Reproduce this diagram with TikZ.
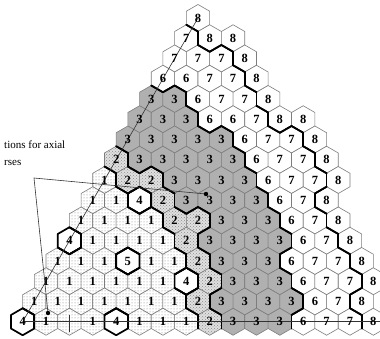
\documentclass[tikz,border=0pt]{standalone}
\usepackage{fontspec}
\setmainfont{Liberation Serif}
\usetikzlibrary{patterns}
\definecolor{greyC}{RGB}{176,176,176}
\definecolor{edgeG}{RGB}{125,125,125}
\newcommand{\hexrad}{13.5}
% row / assembly types, left to right
\newcommand{\hexdata}{%
  1/{8},
  2/{7,8,8},
  3/{7,7,7,8},
  4/{6,6,7,7,8},
  5/{3,3,6,7,7,8},
  6/{3,3,3,6,6,7,8,8},
  7/{3,3,3,3,3,6,7,7,8},
  8/{2,3,3,3,3,3,6,7,7,8},
  9/{1,2,2,3,3,3,3,6,7,7,8},
  10/{1,1,4,2,3,3,3,3,6,7,8},
  11/{1,1,1,1,2,2,3,3,3,6,7,8},
  12/{4,1,1,1,1,2,3,3,3,3,6,7,8},
  13/{1,1,1,5,1,1,2,3,3,3,6,7,7,8},
  14/{1,1,1,1,1,1,4,2,3,3,3,6,7,7,8},
  15/{1,1,1,1,1,1,1,2,3,3,3,3,6,7,8},
  16/{4,1,p,1,4,1,1,1,2,3,3,3,6,7,7,8}}
% zone of each type (4 and 5 stand alone)
\expandafter\def\csname grp1\endcsname{a}
\expandafter\def\csname grpp\endcsname{a}
\expandafter\def\csname grp2\endcsname{b}
\expandafter\def\csname grp3\endcsname{c}
\expandafter\def\csname grp6\endcsname{f}
\expandafter\def\csname grp7\endcsname{f}
\expandafter\def\csname grp8\endcsname{g}
\tikzset{
  cell1/.style={fill=white,postaction={pattern=dots,pattern color=black!50}},
  cellp/.style={cell1},
  cell2/.style={fill=black!12,postaction={pattern=crosshatch dots,pattern color=black!45}},
  cell3/.style={fill=greyC},
  cell4/.style={fill=white},
  cell5/.style={fill=white},
  cell6/.style={fill=white},
  cell7/.style={fill=white},
  cell8/.style={fill=white},
  zonebd/.style={draw=black,line width=1.7pt,line cap=round,line join=round},
  hexnum/.style={font=\bfseries\fontsize{12.5}{12.5}\selectfont,inner sep=0.5pt},
  trav/.style={draw=black!80,line width=0.6pt},
  lbl/.style={font=\fontsize{11}{12}\selectfont,inner sep=0pt}
}

\begin{document}
\begin{tikzpicture}[x=1pt,y=-1pt]
\useasboundingbox (0,0) rectangle (380,339);
% zones
\foreach \k/\vals in \hexdata {
  \foreach \v [count=\jj from 0] in \vals {
    \ifcsname grp\v\endcsname
      \expandafter\xdef\csname hg-\k-\jj\endcsname{\csname grp\v\endcsname}%
    \else
      \expandafter\xdef\csname hg-\k-\jj\endcsname{u\k-\jj}%
    \fi
  }
}
% cells
\foreach \k/\vals in \hexdata {
  \foreach \v [count=\jj from 0] in \vals {
    \pgfmathsetmacro\cx{198+23.38*(\jj-(\k-1)/2)}
    \pgfmathsetmacro\cy{18+20.25*(\k-1)}
    \coordinate (c-\k-\jj) at (\cx,\cy);
    \path[cell\v,draw=edgeG,line width=0.6pt] (c-\k-\jj) +(-30:\hexrad) -- +(30:\hexrad) -- +(90:\hexrad)
      -- +(150:\hexrad) -- +(210:\hexrad) -- +(270:\hexrad) -- cycle;
  }
}
% zone borders
\foreach \k/\vals in \hexdata {
  \foreach \v [count=\jj from 0] in \vals {
    \foreach \a/\dk/\dj in {-30/0/1,30/1/1,90/1/0,150/0/-1,210/-1/-1,270/-1/0} {
      \pgfmathtruncatemacro\nk{\k+\dk}
      \pgfmathtruncatemacro\nj{\jj+\dj}
      \ifcsname hg-\nk-\nj\endcsname
        \edef\ga{\csname hg-\k-\jj\endcsname}%
        \edef\gb{\csname hg-\nk-\nj\endcsname}%
        \ifx\ga\gb\else
          \draw[zonebd] (c-\k-\jj) +(\a:\hexrad) -- +(\a+60:\hexrad);
        \fi
      \fi
    }
  }
}
\foreach \p in {10-2,12-0,13-3,14-6,16-0,16-4}
  \draw[zonebd] (c-\p) +(-30:\hexrad) -- +(30:\hexrad) -- +(90:\hexrad)
    -- +(150:\hexrad) -- +(210:\hexrad) -- +(270:\hexrad) -- cycle;

% traverses
\coordinate (travend) at (380,321.75);
\draw[trav] (c-16-0) -- (travend);
\draw[trav] (c-16-0) -- (c-1-0);
\draw[trav] (c-16-2) +(0,-7) -- +(0,10);

% numbers
\foreach \k/\vals in \hexdata {
  \foreach \v [count=\jj from 0] in \vals {
    \if p\v\else\node[hexnum] (h-\k-\jj) at (c-\k-\jj) {\v};\fi
  }
}

% label
\node[lbl,anchor=base west] (lab1) at (4,149) {tions for axial};
\node[lbl,anchor=base west] (lab2) at (4,166) {rses};
\coordinate (ldr) at (34,178);
\coordinate (dotA) at (206,194);
\coordinate (dotB) at (48,313);
\draw[trav] (dotA) -- (ldr) -- (dotB);
\fill (dotA) circle (2.2);
\fill (dotB) circle (2.2);
\end{tikzpicture}
\end{document}
